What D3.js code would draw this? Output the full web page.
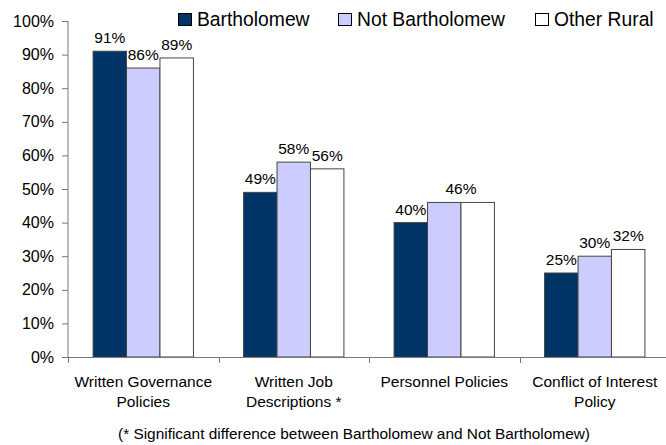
<!DOCTYPE html>
<html>
<head>
<meta charset="utf-8">
<script src="https://cdn.jsdelivr.net/npm/d3@7"></script>
<style>
  html, body { margin: 0; padding: 0; background: #fff; }
  svg { display: block; font-family: Arial, "Liberation Sans", sans-serif; }
</style>
</head>
<body>
<div id="chart"></div>
<script>
// Board practices by group
const categories = [
  ["Written Governance", "Policies"],
  ["Written Job", "Descriptions *"],
  ["Personnel Policies"],
  ["Conflict of Interest", "Policy"]
];
const seriesNames = ["Bartholomew", "Not Bartholomew", "Other Rural"];
const bartholomew    = [91, 49, 40, 25];
const notBartholomew = [86, 58, 46, 30];
const otherRural     = [89, 56, 46, 32];
const yTicks = [0, 10, 20, 30, 40, 50, 60, 70, 80, 90, 100];
const footnote = "(* Significant difference between Bartholomew and Not Bartholomew)";

const seriesValues = [bartholomew, notBartholomew, otherRural];
const colors = ["#003366", "#CCCCFF", "#FFFFFF"];

const W = 666, H = 445;
const plot = { left: 68, right: 670, top: 21, bottom: 357 };

const svg = d3.select("#chart").append("svg")
  .attr("width", W).attr("height", H);

const catKeys = categories.map((c, i) => i);
const x = d3.scaleBand().domain(catKeys).range([plot.left, plot.right]).paddingInner(0).paddingOuter(0);
// three bars per group, gap between groups = 1.5 bar widths
const barW = x.bandwidth() / 4.5;
const xs = d3.scaleBand().domain(d3.range(seriesNames.length))
  .range([0.75 * barW, 0.75 * barW + 3 * barW]);
const y = d3.scaleLinear().domain([0, 100]).range([plot.bottom, plot.top]);

const axisColor = "#777";

// bars
const groups = svg.append("g").selectAll("g").data(catKeys).join("g")
  .attr("transform", d => `translate(${x(d)},0)`);

groups.selectAll("rect")
  .data(ci => seriesValues.map((vals, si) => ({ si, v: vals[ci] })))
  .join("rect")
  .attr("x", d => xs(d.si))
  .attr("width", xs.bandwidth())
  .attr("y", d => y(d.v))
  .attr("height", d => y(0) - y(d.v))
  .attr("fill", d => colors[d.si])
  .attr("stroke", "#444")
  .attr("stroke-width", 1);

// value labels; neighbouring bars of equal height share one label
function labelsFor(ci) {
  const out = [];
  seriesValues.forEach((vals, si) => {
    const v = vals[ci];
    const prev = out[out.length - 1];
    if (prev && prev.v === v && prev.last === si - 1) {
      prev.last = si;
    } else {
      out.push({ first: si, last: si, v });
    }
  });
  return out;
}
groups.selectAll("text.val")
  .data(ci => labelsFor(ci))
  .join("text")
  .attr("class", "val")
  .attr("x", d => (xs(d.first) + xs(d.last) + xs.bandwidth()) / 2)
  .attr("y", d => y(d.v) - 8)
  .attr("text-anchor", "middle")
  .attr("font-size", 15.5)
  .attr("fill", "#000")
  .text(d => d.v + "%");

// y axis
const yAxis = d3.axisLeft(y).tickValues(yTicks).tickFormat(d => d + "%").tickSize(6).tickPadding(8);
const gy = svg.append("g").attr("transform", `translate(${plot.left},0)`).call(yAxis);
gy.select(".domain").attr("stroke", axisColor).attr("d", `M0,${plot.top}V${plot.bottom}`);
gy.selectAll(".tick line").attr("stroke", axisColor);
gy.selectAll(".tick text").attr("font-size", 16).attr("fill", "#000")
  .attr("font-family", "Arial, 'Liberation Sans', sans-serif");

// x axis: ticks at category boundaries
const bounds = catKeys.map(d => x(d)).concat([x(catKeys[catKeys.length - 1]) + x.bandwidth()]);
const gx = svg.append("g");
gx.append("line").attr("x1", plot.left).attr("x2", plot.right)
  .attr("y1", plot.bottom + 0.5).attr("y2", plot.bottom + 0.5).attr("stroke", axisColor);
gx.selectAll("line.tk").data(bounds).join("line").attr("class", "tk")
  .attr("x1", d => Math.round(d) + 0.5).attr("x2", d => Math.round(d) + 0.5)
  .attr("y1", plot.bottom).attr("y2", plot.bottom + 6).attr("stroke", axisColor);

// category labels
gx.selectAll("text.cat").data(catKeys).join("text").attr("class", "cat")
  .attr("x", d => x(d) + x.bandwidth() / 2)
  .attr("y", 387)
  .attr("text-anchor", "middle")
  .attr("font-size", 15.5)
  .attr("fill", "#000")
  .each(function (d) {
    const t = d3.select(this);
    categories[d].forEach((line, i) => {
      t.append("tspan").attr("x", x(d) + x.bandwidth() / 2).attr("dy", i === 0 ? 0 : 19.5).text(line);
    });
  });

// legend
const legendX = [178, 338, 535];
const lg = svg.append("g").selectAll("g").data(seriesNames).join("g")
  .attr("transform", (d, i) => `translate(${legendX[i]},13)`);
lg.append("rect").attr("x", 0.5).attr("y", 0.5).attr("width", 13).attr("height", 12)
  .attr("fill", (d, i) => colors[i]).attr("stroke", "#000");
lg.append("text").attr("x", 19).attr("y", 12.5).attr("font-size", 19.3).attr("fill", "#000").text(d => d);

// footnote
svg.append("text").attr("x", (118 + 590) / 2).attr("y", 439)
  .attr("text-anchor", "middle").attr("font-size", 15.4).attr("fill", "#000")
  .text(footnote);
</script>
</body>
</html>
